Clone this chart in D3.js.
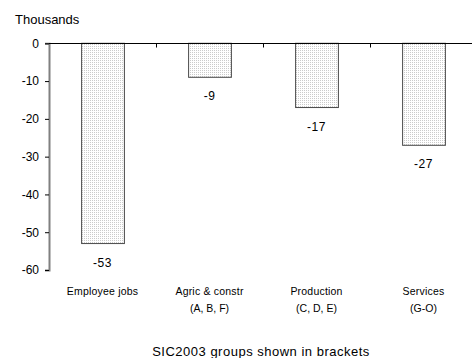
<!DOCTYPE html>
<html>
<head>
<meta charset="utf-8">
<script src="https://cdn.jsdelivr.net/npm/d3@7"></script>
<style>
  html, body { margin: 0; padding: 0; background: #fff; }
  svg { display: block; font-family: "Liberation Sans", Arial, sans-serif; }
</style>
</head>
<body>
<svg id="chart" width="472" height="358"></svg>
<script>
// Change in employee jobs by SIC2003 group, thousands
const categoryLine1 = ["Employee jobs", "Agric & constr", "Production", "Services"];
const categoryLine2 = ["", "(A, B, F)", "(C, D, E)", "(G-O)"];
const values = [-53, -9, -17, -27];
const yTicks = [0, -10, -20, -30, -40, -50, -60];

const svg = d3.select("#chart");

const x = d3.scaleBand()
  .domain(d3.range(values.length))
  .range([49, 477])
  .paddingInner(0.6)
  .paddingOuter(0.3);

const y = d3.scaleLinear().domain([-60, 0]).range([270, 43.3]);

// dotted fill for the bars
const defs = svg.append("defs");
const pat = defs.append("pattern")
  .attr("id", "dots")
  .attr("patternUnits", "userSpaceOnUse")
  .attr("width", 2).attr("height", 2);
pat.append("rect").attr("width", 2).attr("height", 2).attr("fill", "#ffffff");
pat.append("rect").attr("width", 1).attr("height", 1).attr("fill", "#cbcbcb");

// unit label
svg.append("text")
  .attr("x", 15).attr("y", 24)
  .attr("font-size", 13)
  .attr("fill", "#000")
  .text("Thousands");

// bars
svg.append("g").selectAll("rect")
  .data(values)
  .join("rect")
  .attr("x", (d, i) => x(i) + 0.5)
  .attr("y", d => y(0))
  .attr("width", x.bandwidth())
  .attr("height", d => y(d) - y(0))
  .attr("fill", "url(#dots)")
  .attr("stroke", "#4a4a4a")
  .attr("stroke-width", 1);

// value labels beneath the bars
svg.append("g").selectAll("text")
  .data(values)
  .join("text")
  .attr("x", (d, i) => x(i) + x.bandwidth() / 2)
  .attr("y", d => y(d) + 23)
  .attr("text-anchor", "middle")
  .attr("font-size", 12)
  .attr("letter-spacing", 0.5)
  .attr("fill", "#000")
  .text(d => d);

// y axis
const yAxis = d3.axisLeft(y).tickValues(yTicks).tickSize(4).tickPadding(6).tickFormat(d3.format("d"));
const gy = svg.append("g").attr("transform", "translate(49,0)").call(yAxis);
gy.select(".domain").attr("stroke", "#808080").attr("stroke-width", 2);
gy.selectAll(".tick line").attr("stroke", "#000");
gy.selectAll(".tick text")
  .attr("font-size", 12)
  .attr("font-family", "Liberation Sans, Arial, sans-serif")
  .attr("fill", "#000")
  .text(d => d < 0 ? "-" + Math.abs(d) : d);

// zero baseline with category separators
const zeroY = Math.round(y(0)) + 0.5;
svg.append("line")
  .attr("x1", 49).attr("x2", 472)
  .attr("y1", zeroY).attr("y2", zeroY)
  .attr("stroke", "#000").attr("stroke-width", 1);

svg.append("g").selectAll("line")
  .data(d3.range(1, values.length))
  .join("line")
  .attr("x1", i => Math.round(x(i) - x.step() * x.paddingInner() / 2) + 0.5)
  .attr("x2", i => Math.round(x(i) - x.step() * x.paddingInner() / 2) + 0.5)
  .attr("y1", zeroY).attr("y2", zeroY + 4)
  .attr("stroke", "#000");

// category labels
const cat = svg.append("g").selectAll("g")
  .data(d3.range(values.length))
  .join("g")
  .attr("transform", i => `translate(${x(i) + x.bandwidth() / 2},0)`);
cat.append("text")
  .attr("y", 295)
  .attr("text-anchor", "middle")
  .attr("font-size", 10.5)
  .attr("letter-spacing", 0.2)
  .attr("fill", "#000")
  .text(i => categoryLine1[i]);
cat.append("text")
  .attr("y", 312)
  .attr("text-anchor", "middle")
  .attr("font-size", 10.5)
  .attr("fill", "#000")
  .text(i => categoryLine2[i]);

// axis title
svg.append("text")
  .attr("x", 261).attr("y", 356)
  .attr("text-anchor", "middle")
  .attr("font-size", 13)
  .attr("letter-spacing", 0.5)
  .attr("fill", "#000")
  .text("SIC2003 groups shown in brackets");
</script>
</body>
</html>
